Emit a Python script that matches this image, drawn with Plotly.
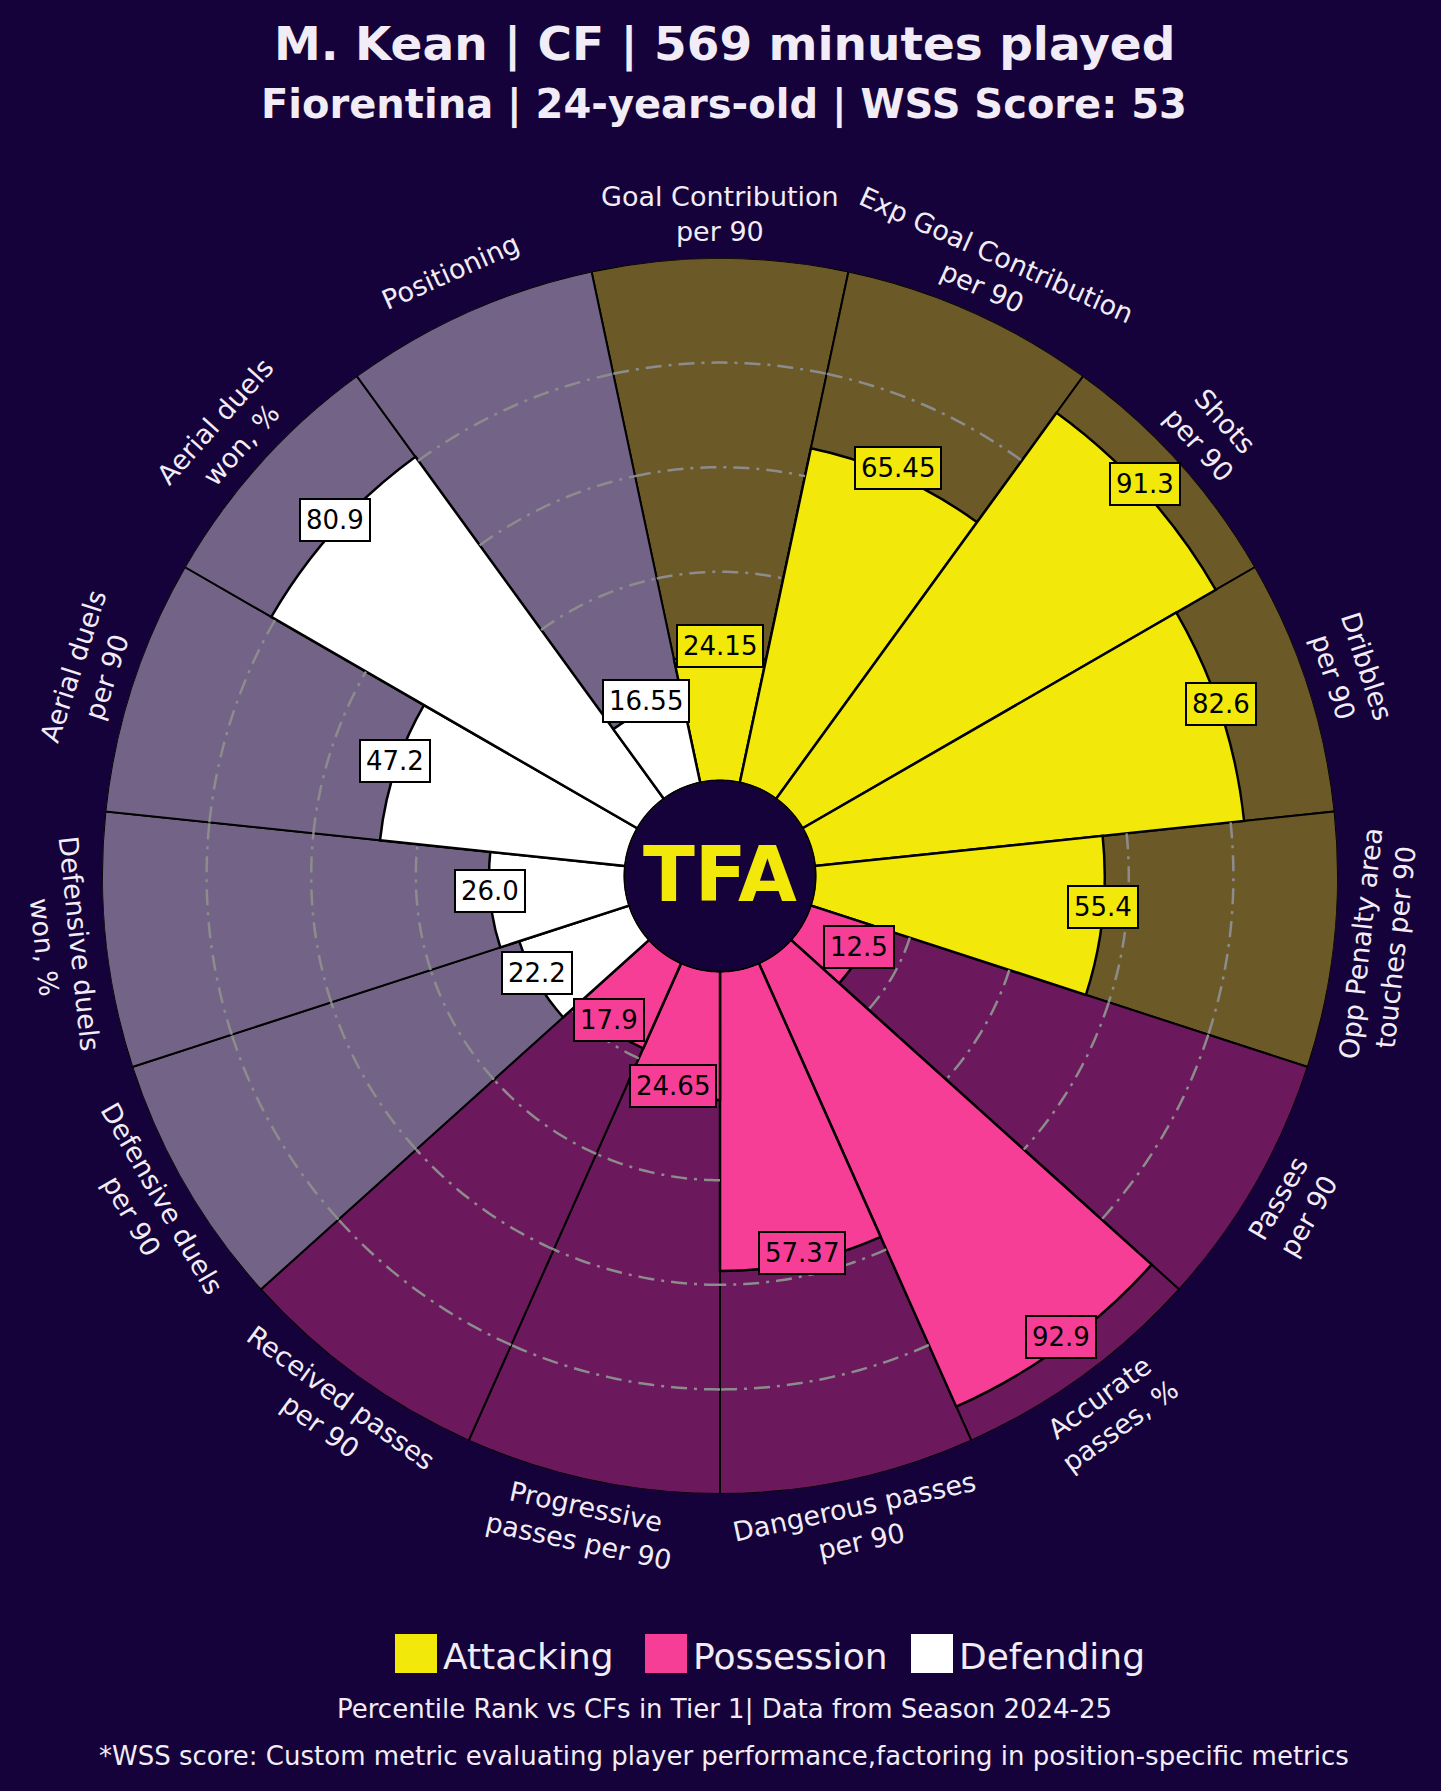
import numpy as np
import plotly.graph_objects as go

# ---------------- data ----------------
categories = [
    "Goal Contribution<br>per 90",
    "Exp Goal Contribution<br>per 90",
    "Shots<br>per 90",
    "Dribbles<br>per 90",
    "Opp Penalty area<br>touches per 90",
    "Passes<br>per 90",
    "Accurate<br>passes, %",
    "Dangerous passes<br>per 90",
    "Progressive<br>passes per 90",
    "Received passes<br>per 90",
    "Defensive duels<br>per 90",
    "Defensive duels<br>won, %",
    "Aerial duels<br>per 90",
    "Aerial duels<br>won, %",
    "Positioning",
]
values = [24.15, 65.45, 91.3, 82.6, 55.4, 12.5, 92.9, 57.37, 24.65, 17.9,
          22.2, 26.0, 47.2, 80.9, 16.55]
value_labels = ["24.15", "65.45", "91.3", "82.6", "55.4", "12.5", "92.9", "57.37",
                "24.65", "17.9", "22.2", "26.0", "47.2", "80.9", "16.55"]
groups = ["Attacking"] * 5 + ["Possession"] * 5 + ["Defending"] * 5
group_names = ["Attacking", "Possession", "Defending"]
grid_levels = [20, 40, 60, 80]

title_1 = "M. Kean | CF | 569 minutes played"
title_2 = "Fiorentina | 24-years-old | WSS Score: 53"
footer_1 = "Percentile Rank vs CFs in Tier 1| Data from Season 2024-25"
footer_2 = "*WSS score: Custom metric evaluating player performance,factoring in position-specific metrics"

# ---------------- style ----------------
BG = "#16023a"
FG_COL = {"Attacking": "#f2e80a", "Possession": "#f73e97", "Defending": "#ffffff"}
BACK_COL = {"Attacking": "#6b5a28", "Possession": "#6c185c", "Defending": "#736487"}
TXT = "#f1ecf6"
FONT = "DejaVu Sans"

W, H = 1441, 1791
CX, CY = 720, 876      # pixel centre of the pizza
R, HOLE_R = 618, 95    # outer radius and hole radius (px)

n = len(categories)
step = 360 / n
theta = [i * step for i in range(n)]

fig = go.Figure()

# background slices (to 100)
fig.add_trace(go.Barpolar(
    r=[100] * n, theta=theta, width=[step] * n,
    marker=dict(color=[BACK_COL[g] for g in groups], line=dict(color="black", width=2)),
    showlegend=False, hoverinfo="skip"))

# value slices
fig.add_trace(go.Barpolar(
    r=values, theta=theta, width=[step] * n,
    marker=dict(color=[FG_COL[g] for g in groups], line=dict(color="black", width=2.5)),
    showlegend=False, hoverinfo="skip"))

# grid rings, only over the background part of each slice
for lvl in grid_levels:
    rr, tt = [], []
    for i, v in enumerate(values):
        if v < lvl:
            arc = np.linspace(theta[i] - step / 2, theta[i] + step / 2, 30)
            tt += list(arc) + [None]
            rr += [lvl] * 30 + [None]
    fig.add_trace(go.Scatterpolar(
        r=rr, theta=tt, mode="lines",
        line=dict(color="#8c8c8c", width=2.5, dash="16px,7px,3px,7px"),
        showlegend=False, hoverinfo="skip", connectgaps=False))

# centre circle outline
ring = np.linspace(0, 360, 361)
fig.add_trace(go.Scatterpolar(
    r=[0] * len(ring), theta=ring, mode="lines",
    line=dict(color="black", width=3), showlegend=False, hoverinfo="skip"))

fig.update_layout(
    width=W, height=H,
    margin=dict(l=0, r=0, t=0, b=0),
    paper_bgcolor=BG, plot_bgcolor=BG,
    polar=dict(
        domain=dict(x=[(CX - R) / W, (CX + R) / W],
                    y=[(H - CY - R) / H, (H - CY + R) / H]),
        hole=HOLE_R / R,
        bgcolor=BG,
        bargap=0,
        barmode="overlay",
        angularaxis=dict(rotation=90, direction="clockwise", showgrid=False,
                         showticklabels=False, showline=False, ticks=""),
        radialaxis=dict(range=[0, 100], visible=False, showgrid=False),
    ),
)

def to_paper(r_px, ang_deg, dy=0):
    a = np.deg2rad(ang_deg)
    x = CX + r_px * np.cos(a)
    y = CY - r_px * np.sin(a) + dy
    return x / W, 1 - y / H

annotations = []
# category labels
for i, lab in enumerate(categories):
    ang = 90 - theta[i]
    a = ((ang + 180) % 360) - 180
    rot = a - 90 if 0 <= a <= 180 else a + 90
    x, y = to_paper(R + 44, ang)
    annotations.append(dict(
        x=x, y=y, xref="paper", yref="paper", text=lab, showarrow=False,
        textangle=-rot, xanchor="center", yanchor="middle",
        font=dict(family=FONT, size=27, color=TXT)))

# value labels
for i, v in enumerate(values):
    ang = 90 - theta[i]
    rp = HOLE_R + v / 100 * (R - HOLE_R)
    x, y = to_paper(rp, ang, dy=-9)
    annotations.append(dict(
        x=x, y=y, xref="paper", yref="paper", text=value_labels[i], showarrow=False,
        xanchor="center", yanchor="middle",
        bgcolor=FG_COL[groups[i]], bordercolor="black", borderwidth=2, borderpad=5,
        font=dict(family=FONT, size=26, color="black")))

# centre logo
annotations.append(dict(x=CX / W, y=1 - (CY - 2) / H, xref="paper", yref="paper",
                        text="TFA", showarrow=False, xanchor="center", yanchor="middle",
                        font=dict(family=FONT, size=76, color="#f2e80a", weight=700)))

# titles
annotations.append(dict(x=724 / W, y=1 - 44 / H, xref="paper", yref="paper", text=title_1,
                        showarrow=False, xanchor="center", yanchor="middle",
                        font=dict(family=FONT, size=47, color=TXT, weight=700)))
annotations.append(dict(x=724 / W, y=1 - 105 / H, xref="paper", yref="paper", text=title_2,
                        showarrow=False, xanchor="center", yanchor="middle",
                        font=dict(family=FONT, size=40, color=TXT, weight=700)))

# footers
annotations.append(dict(x=724 / W, y=1 - 1709 / H, xref="paper", yref="paper", text=footer_1,
                        showarrow=False, xanchor="center", yanchor="middle",
                        font=dict(family=FONT, size=26, color=TXT)))
annotations.append(dict(x=724 / W, y=1 - 1756 / H, xref="paper", yref="paper", text=footer_2,
                        showarrow=False, xanchor="center", yanchor="middle",
                        font=dict(family=FONT, size=26, color=TXT)))

# custom legend
legend_x = [395, 645, 911]
shapes = []
for gx, g in zip(legend_x, group_names):
    shapes.append(dict(type="rect", xref="paper", yref="paper",
                       x0=gx / W, x1=(gx + 42) / W, y0=1 - 1673 / H, y1=1 - 1634 / H,
                       fillcolor=FG_COL[g], line=dict(width=0)))
    annotations.append(dict(x=(gx + 46) / W, y=1 - 1656 / H, xref="paper", yref="paper",
                            text=g, showarrow=False, xanchor="left", yanchor="middle",
                            font=dict(family=FONT, size=36, color=TXT)))

fig.update_layout(annotations=annotations, shapes=shapes)

fig.write_html("out.html", config={"displayModeBar": False},
               post_script="document.body.style.margin='0';")
